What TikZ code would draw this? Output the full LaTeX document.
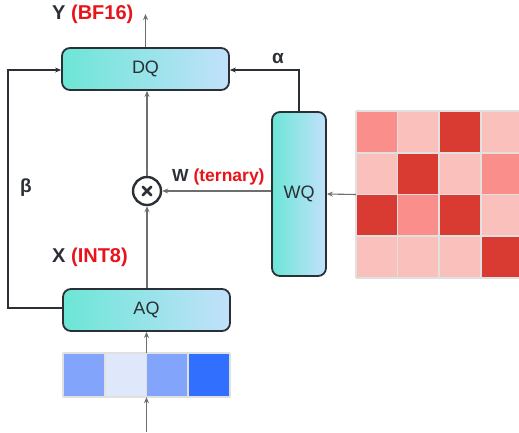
\documentclass[tikz,border=0pt]{standalone}
\usepackage{fontspec}
\setmainfont{Liberation Sans}
\usetikzlibrary{arrows.meta,calc}
\definecolor{ink}{HTML}{2B2F36}
\definecolor{wire}{HTML}{6E6E6E}
\definecolor{lblred}{HTML}{E8141B}
\definecolor{boxl}{HTML}{6CE6D6}
\definecolor{boxr}{HTML}{C2E1FB}
\definecolor{cellgrid}{HTML}{E0E0E0}
\definecolor{rlo}{HTML}{F9C0BC}
\definecolor{rmid}{HTML}{F98E8A}
\definecolor{rhi}{HTML}{D93A32}
\definecolor{bA}{HTML}{82A5FB}
\definecolor{bB}{HTML}{DFE7FB}
\definecolor{bC}{HTML}{3170FF}
\tikzset{
  qbox/.style={draw=ink, line width=1.8pt, rounded corners=8pt,
    left color=boxl, right color=boxr, shading angle=90,
    font=\fontsize{18}{18}\selectfont, text=ink, inner sep=0pt},
  flow/.style={draw=wire, line width=1.1pt, -{Stealth[length=6pt,width=5pt]}},
  loop/.style={draw=ink, line width=1.6pt, -{Stealth[length=6pt,width=5pt]}},
  lbl/.style={font=\bfseries\fontsize{19}{19}\selectfont, text=ink, inner sep=0pt},
  cell/.style={draw=cellgrid, line width=1.6pt},
}
\begin{document}
\begin{tikzpicture}[x=1pt,y=-1pt]
\useasboundingbox (0,0) rectangle (519,432);

% quantisation blocks
\node[qbox, minimum width=167pt, minimum height=42pt] (dq) at (145.5,69) {DQ};
\node[qbox, minimum width=167pt, minimum height=42pt] (aq) at (146.5,310) {AQ};
\node[qbox, minimum width=54pt, minimum height=164pt] (wq) at (299,194) {WQ};

% multiplier
\node[circle, draw=ink, line width=2.4pt, minimum size=28pt, inner sep=0pt] (mul) at (147,191) {};
\draw[ink, line width=2.6pt, line cap=round]
  ($(mul.center)+(-4.2,-4.2)$) -- ($(mul.center)+(4.2,4.2)$)
  ($(mul.center)+(-4.2,4.2)$) -- ($(mul.center)+(4.2,-4.2)$);

% input activation vector
\foreach \c [count=\i from 0] in {bA,bB,bA,bC}
  \fill[\c] (63+\i*41.75,353) rectangle ++(41.75,44);
\foreach \i in {0,...,4}
  \draw[cell] (63+\i*41.75,353) -- ++(0,44);
\draw[cell] (63,353) -- (230,353) (63,397) -- (230,397);
\node[minimum width=167pt, minimum height=44pt, inner sep=0pt] (vec) at (146.5,375) {};

% ternary weight matrix
\foreach \row [count=\r from 0] in {{rmid,rlo,rhi,rlo},{rlo,rhi,rlo,rmid},{rhi,rmid,rhi,rlo},{rlo,rlo,rlo,rhi}}
  \foreach \c [count=\k from 0] in \row
    \fill[\c] (356+\k*41.6,111+\r*41.75) rectangle ++(41.6,41.75);
\foreach \i in {0,...,4} {
  \draw[cell] (356+\i*41.6,111) -- ++(0,167);
  \draw[cell] (356,111+\i*41.75) -- ++(166.4,0);
}
\node[minimum width=166pt, minimum height=167pt, inner sep=0pt] (wmat) at (439,194.5) {};

% data flow
\coordinate (xin) at (146.5,432);
\coordinate (yout) at (145.5,14);
\draw[flow] (xin) -- (vec.south);
\draw[flow] (vec.north) -- (aq.south);
\draw[flow] (aq.north -| mul) -- (mul.south);
\draw[flow] (mul.north) -- (mul |- dq.south);
\draw[flow] (dq.north) -- (yout);
\draw[flow] (wq.west |- mul) -- (mul.east);
\draw[flow] (wmat.west) -- (wq.east);

% scale factors
\draw[loop] (aq.west |- 0,308) -- (8,308) -- (8,70) -- (dq.west |- 0,70);
\draw[loop] (wq.north) -- (299,70) -- (dq.east |- 0,70);

% labels
\node[lbl, anchor=base west, font=\bfseries\fontsize{20}{20}\selectfont] at (52,19) {Y \textcolor{lblred}{(BF16)}};
\node[lbl, anchor=base west, font=\bfseries\fontsize{17.5}{17.5}\selectfont] at (172,181) {W \textcolor{lblred}{(ternary)}};
\node[lbl, anchor=base west, font=\bfseries\fontsize{20}{20}\selectfont] at (52,262) {X \textcolor{lblred}{(INT8)}};
\node[lbl, anchor=base west] at (272,63) {α};
\node[lbl, anchor=base west] at (20,192) {β};
\end{tikzpicture}
\end{document}
